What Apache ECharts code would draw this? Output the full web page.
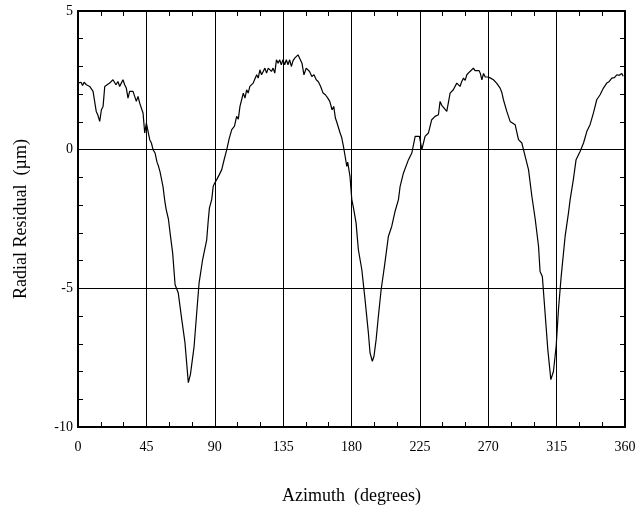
<!DOCTYPE html>
<html><head><meta charset="utf-8">
<script src="https://cdn.jsdelivr.net/npm/echarts@6/dist/echarts.min.js"></script>
<style>html,body{margin:0;padding:0;background:#fff}#c{width:642px;height:510px}</style>
</head><body><div id="c"></div>
<script>
const azimuth = [
  0,1,2,3,4,5.5,6.6,7.7,8.8,9.9,11,12,13,14.3,15.4,16.5,17.6,18.7,20.8,22,23,24,25,26.3,27.4,28.5,29.6,30.7,31.8,32.9,34,35.1,36.2,37.3,38.4,39.5,40.6,41.7,42.8,43.9,45,46.1,47.2,48.3,49.4,
  50.7,52,53,54,56,57,58,59.5,60.6,62.3,63.9,66,68.3,70.4,72.6,74,74.8,76.4,78.1,79.7,82,84.7,85.8,86.5,88,89,90,91.3,93,94.6,96,97.9,99.5,
  101.2,103,104.4,105.5,106.6,107.7,108.8,109.9,111,112,113.1,114.2,115.3,116.4,117.6,118.6,119.7,120.8,121.9,123,124.1,125.2,126.3,127.3,128.4,129.5,130.6,131.7,132.8,133.8,134.9,136,137.1,138.2,139.3,140.4,141.5,142.6,144.8,145.9,147.4,148.7,150.2,
  152.4,153.9,155.3,156.8,158.2,159.7,160.5,161.3,162.8,164.4,165.7,167.2,168.3,169.4,170.5,172.5,173.5,174.7,176,176.9,177.5,179,180.2,181.3,183,184.5,186.8,188.9,191.1,192.2,193.7,194.8,196.2,197.7,199.5,
  201.7,204.3,206.5,208.7,210.9,212,214.2,217.5,219.7,221.9,223,224.7,226.3,228.4,230.6,232.8,235,237.2,238.3,239.4,240.5,242.7,244.9,247,248,249.3,251.4,252.5,253.7,254.8,255.9,257,258,259,260.2,261.3,262.4,264,264.8,265.8,266.9,268,269,270,
  271.5,273.4,275.5,277.8,279,280,282.2,284.4,285.5,287.7,289.9,292.1,294.3,296.5,298.7,300.9,303.1,304.1,305.6,307.4,309.2,311.2,312.9,314.7,316.2,318,320.6,321.5,322.8,323.9,326,327.8,330.5,332.7,334.9,337,339.2,341.4,343.6,345.8,348,349.5,351.3,353,354.6,356.2,357.9,358.8
];
const residual = [
  2.40,2.34,2.43,2.31,2.43,2.34,2.40,2.28,2.34,2.10,2.04,1.38,1.26,1.02,1.44,1.56,2.28,2.34,2.40,2.46,2.52,2.50,2.34,2.46,2.28,2.40,2.52,2.34,2.22,1.86,2.10,2.04,2.10,1.92,1.74,1.92,1.68,1.68,1.32,0.60,0.96,0.90,0.36,0.24,0.00,
  -0.12,-0.45,-0.60,-0.80,-1.35,-1.80,-2.15,-2.50,-3.00,-3.73,-4.87,-5.17,-6.13,-6.96,-8.40,-8.10,-8.05,-7.10,-5.90,-4.80,-3.97,-3.25,-2.50,-2.10,-1.80,-1.32,-1.20,-1.08,-0.90,-0.72,-0.40,0.00,0.40,
  0.72,0.85,1.20,1.10,1.56,1.80,2.04,1.86,2.16,2.04,2.28,2.28,2.40,2.35,2.70,2.58,2.88,2.70,2.82,2.94,2.76,2.94,2.88,2.82,2.94,2.76,3.24,3.12,3.24,3.06,3.24,3.06,3.24,3.06,3.24,3.00,3.20,3.30,3.42,3.36,3.12,2.70,2.94,
  2.82,2.64,2.70,2.52,2.45,2.28,2.30,2.04,1.98,1.86,1.74,1.44,1.56,1.14,0.96,0.60,0.45,0.12,-0.30,-0.60,-0.45,-0.96,-1.80,-2.10,-2.64,-3.60,-4.33,-5.40,-6.60,-7.33,-7.63,-7.45,-6.85,-6.00,-5.05,
  -4.20,-3.12,-2.76,-2.22,-1.80,-1.32,-0.84,-0.36,-0.12,0.48,0.50,0.48,0.00,0.48,0.60,1.08,1.20,1.26,1.74,1.60,1.56,1.38,2.04,2.16,2.10,2.40,2.28,2.45,2.58,2.50,2.70,2.65,2.82,2.75,2.94,2.85,2.82,2.85,2.75,2.52,2.75,2.62,2.58,2.62,
  2.58,2.52,2.40,2.22,2.05,1.80,1.38,1.02,0.95,0.90,0.36,0.24,-0.24,-0.72,-1.68,-2.50,-3.49,-4.39,-4.57,-5.89,-7.21,-8.29,-8.00,-7.09,-5.77,-4.57,-3.12,-3.10,-2.28,-1.80,-1.08,-0.36,-0.06,0.24,0.66,0.90,1.32,1.80,1.98,2.22,2.40,2.45,2.58,2.60,2.70,2.68,2.75,2.65
];
const xTicks = [0,45,90,135,180,225,270,315,360];
const yTicks = [-10,-5,0,5];

const font = 'Liberation Serif';
const chart = echarts.init(document.getElementById('c'), null, {renderer:'canvas'});
const grid = {color:'#000', width:1};
const frame = {show:true, onZero:false, lineStyle:{color:'#000', width:2}};
const tick = {show:true, inside:true, length:5, lineStyle:{color:'#000'}};
chart.setOption({
  animation:false,
  backgroundColor:'#fff',
  grid:{left:78, right:17, top:11, bottom:83, containLabel:false},
  xAxis:[{
    type:'value', min:xTicks[0], max:xTicks[xTicks.length-1], interval:45,
    name:'Azimuth  (degrees)', nameLocation:'middle', nameGap:60,
    nameTextStyle:{fontFamily:font, fontSize:18, color:'#000'},
    axisLine:frame, axisTick:tick,
    minorTick:{show:true, splitNumber:3, length:5, lineStyle:{color:'#000'}},
    axisLabel:{fontFamily:font, fontSize:14, color:'#000', margin:13},
    splitLine:{show:true, lineStyle:grid}
  },{
    type:'value', position:'top', min:xTicks[0], max:xTicks[xTicks.length-1], interval:45,
    axisLine:frame, axisTick:tick,
    minorTick:{show:true, splitNumber:3, length:5, lineStyle:{color:'#000'}},
    axisLabel:{show:false}, splitLine:{show:false}
  }],
  yAxis:[{
    type:'value', min:yTicks[0], max:yTicks[yTicks.length-1], interval:5,
    name:'Radial Residual  (µm)', nameLocation:'middle', nameGap:48, nameRotate:90,
    nameTextStyle:{fontFamily:font, fontSize:18, color:'#000'},
    axisLine:frame, axisTick:tick,
    minorTick:{show:true, splitNumber:5, length:5, lineStyle:{color:'#000'}},
    axisLabel:{fontFamily:font, fontSize:14, color:'#000', margin:5},
    splitLine:{show:true, lineStyle:grid}
  },{
    type:'value', position:'right', min:yTicks[0], max:yTicks[yTicks.length-1], interval:5,
    axisLine:frame, axisTick:tick,
    minorTick:{show:true, splitNumber:5, length:5, lineStyle:{color:'#000'}},
    axisLabel:{show:false}, splitLine:{show:false}
  }],
  series:[{
    type:'line', xAxisIndex:0, yAxisIndex:0,
    data: azimuth.map((a,i)=>[a, residual[i]]),
    showSymbol:false, symbol:'none',
    lineStyle:{color:'#000', width:1.2}
  }]
});
</script></body></html>
